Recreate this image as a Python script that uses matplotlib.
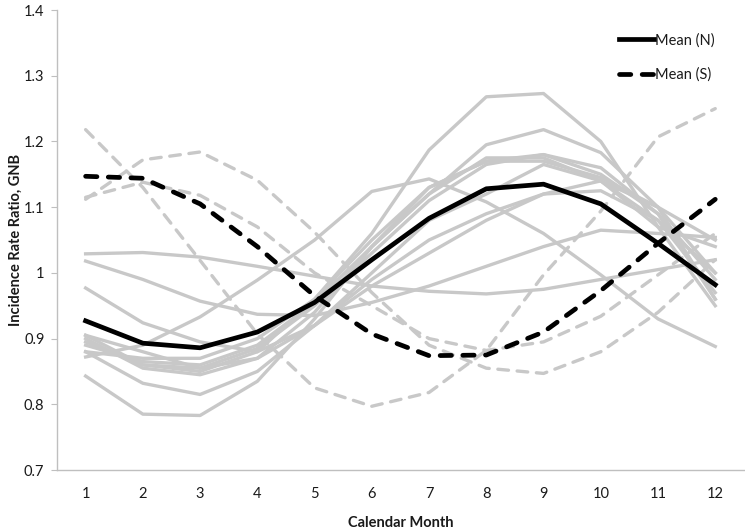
import matplotlib
matplotlib.use("Agg")
import matplotlib.pyplot as plt

months = list(range(1, 13))
yticks = [0.7, 0.8, 0.9, 1.0, 1.1, 1.2, 1.3, 1.4]
ytick_labels = ["0.7", "0.8", "0.9", "1", "1.1", "1.2", "1.3", "1.4"]

# Individual northern series (solid gray)
north_a = [1.029, 1.031, 1.024, 1.010, 0.995, 0.980, 0.972, 0.968, 0.975, 0.990, 1.005, 1.020]
north_b = [1.018, 0.990, 0.957, 0.937, 0.935, 0.955, 0.980, 1.010, 1.040, 1.065, 1.060, 1.054]
north_c = [0.977, 0.924, 0.895, 0.880, 0.920, 0.990, 1.050, 1.090, 1.120, 1.125, 1.080, 1.000]
north_d = [0.872, 0.890, 0.933, 0.989, 1.050, 1.124, 1.143, 1.108, 1.060, 0.997, 0.930, 0.888]
north_e = [0.843, 0.785, 0.783, 0.835, 0.930, 1.040, 1.130, 1.170, 1.180, 1.160, 1.090, 0.960]
north_f = [0.880, 0.832, 0.815, 0.850, 0.920, 1.000, 1.080, 1.120, 1.165, 1.140, 1.080, 0.970]
north_g = [0.905, 0.860, 0.850, 0.880, 0.960, 1.060, 1.187, 1.268, 1.273, 1.200, 1.070, 0.950]
north_h = [0.900, 0.855, 0.845, 0.870, 0.940, 1.040, 1.120, 1.195, 1.218, 1.183, 1.100, 0.960]
north_i = [0.895, 0.860, 0.855, 0.885, 0.950, 1.030, 1.110, 1.165, 1.180, 1.150, 1.090, 0.990]
north_j = [0.890, 0.865, 0.860, 0.890, 0.955, 1.040, 1.120, 1.175, 1.175, 1.140, 1.070, 1.040]
north_k = [0.880, 0.870, 0.870, 0.900, 0.960, 1.050, 1.130, 1.170, 1.170, 1.145, 1.100, 1.050]
north_l = [0.905, 0.880, 0.855, 0.870, 0.920, 0.980, 1.030, 1.080, 1.120, 1.140, 1.100, 1.000]
north_series = [north_a, north_b, north_c, north_d, north_e, north_f,
                north_g, north_h, north_i, north_j, north_k, north_l]

# Individual southern series (dashed gray)
south_a = [1.218, 1.130, 1.019, 0.907, 0.825, 0.797, 0.818, 0.882, 0.997, 1.094, 1.207, 1.250]
south_b = [1.112, 1.172, 1.184, 1.141, 1.062, 0.970, 0.890, 0.855, 0.847, 0.880, 0.940, 1.020]
south_c = [1.115, 1.138, 1.118, 1.070, 1.000, 0.950, 0.900, 0.882, 0.895, 0.934, 0.997, 1.060]
south_series = [south_a, south_b, south_c]

mean_n = [0.927, 0.893, 0.886, 0.910, 0.955, 1.020, 1.083, 1.128, 1.135, 1.105, 1.045, 0.982]
mean_s = [1.147, 1.144, 1.105, 1.040, 0.965, 0.907, 0.874, 0.875, 0.910, 0.973, 1.045, 1.112]

plt.rcParams['font.family'] = ['Lato', 'DejaVu Sans']
text_color = '#1a1a1a'
gray = '#c8c8c8'

fig = plt.figure(figsize=(7.45, 5.29), dpi=100)
ax = fig.add_axes([0.0765, 0.1115, 0.922, 0.8695])

for s in north_series:
    ax.plot(months, s, color=gray, lw=2.4, solid_joinstyle='round', zorder=2)
for s in south_series:
    ax.plot(months, s, color=gray, lw=2.4, linestyle=(0, (3.2, 2.6)),
            dash_capstyle='round', zorder=2)

ax.plot(months, mean_n, color='black', lw=3.4, label='Mean (N)', zorder=4,
        solid_joinstyle='round')
ax.plot(months, mean_s, color='black', lw=3.4, linestyle=(0, (2.4, 2.4)),
        dash_capstyle='round', label='Mean (S)', zorder=4)

ax.set_xlim(0.5, 12.5)
ax.set_ylim(0.7, 1.4)
ax.set_xticks(months)
ax.set_xticklabels([str(m) for m in months])
ax.set_yticks(yticks)
ax.set_yticklabels(ytick_labels)

for side in ['top', 'right']:
    ax.spines[side].set_visible(False)
for side in ['left', 'bottom']:
    ax.spines[side].set_color('#bfbfbf')
    ax.spines[side].set_linewidth(1.0)

ax.tick_params(axis='y', length=4, color='#bfbfbf', labelsize=10.5,
               labelcolor=text_color, pad=5)
ax.tick_params(axis='x', length=0, labelsize=10.5, labelcolor=text_color, pad=12)

ax.set_xlabel('Calendar Month', fontsize=10.5, fontweight='bold', color=text_color, labelpad=11)
ax.set_ylabel('Incidence Rate Ratio, GNB', fontsize=10.5, fontweight='bold',
              color=text_color, labelpad=1)

leg = ax.legend(loc='upper left', bbox_to_anchor=(0.818, 0.95), frameon=False,
                handlelength=2.4, handletextpad=0.1, labelspacing=1.4,
                borderaxespad=0, borderpad=0, fontsize=10.5)
for t in leg.get_texts():
    t.set_color(text_color)

fig.savefig('out.png', dpi=100)
